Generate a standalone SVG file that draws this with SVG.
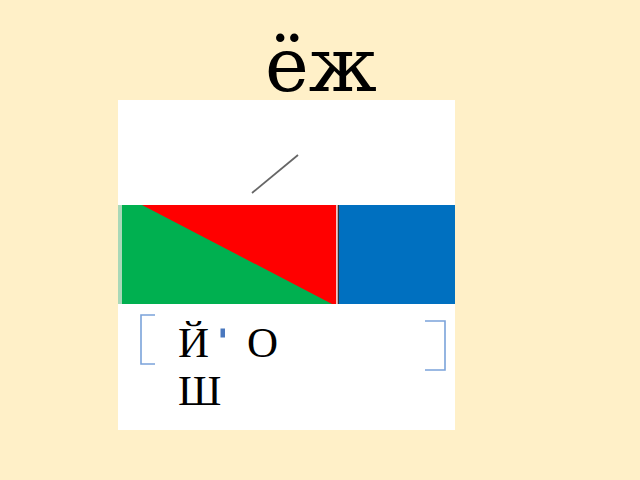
<svg xmlns="http://www.w3.org/2000/svg" width="640" height="480" viewBox="0 0 640 480">
<style>
.letter{font-family:"Liberation Serif","Times New Roman",serif;font-size:43px;fill:#000}
.title{font-family:"DejaVu Serif","Liberation Serif",serif;font-size:74px;fill:#000}
.bracket{fill:none;stroke:#7BA3DA;stroke-width:1.6}
</style>
<rect x="0" y="0" width="640" height="480" fill="#FFF0C8"/>
<g id="title"><text class="title" x="321" y="91" text-anchor="middle">ёж</text></g>
<g id="card">
<rect x="118" y="100" width="337" height="330" fill="#FFFFFF"/>
</g>
<g id="accent"><line x1="252" y1="193" x2="298" y2="155" stroke="#666666" stroke-width="1.8"/></g>
<g id="bar">
<rect x="118" y="205" width="4" height="99" fill="#A9D8B8"/>
<rect x="122" y="205" width="214" height="99" fill="#00B050"/>
<polygon points="142,205 336,205 336,304 332,304" fill="#FF0000"/>
<rect x="336" y="205" width="2" height="99" fill="#F2C6C6"/>
<rect x="337.8" y="205" width="1.4" height="99" fill="#333333"/>
<rect x="339" y="205" width="116" height="99" fill="#0070C0"/>
</g>
<g id="brackets">
<path class="bracket" d="M155,315 H141 V364 H155"/>
<path class="bracket" d="M425,321 H445 V370 H425"/>
</g>
<g id="letters">
<text class="letter" x="178" y="357">Й</text>
<rect x="220.5" y="328.5" width="4.5" height="9" fill="#4A78BE"/>
<text class="letter" x="247" y="357">О</text>
<text class="letter" x="178" y="405">Ш</text>
</g>
</svg>
